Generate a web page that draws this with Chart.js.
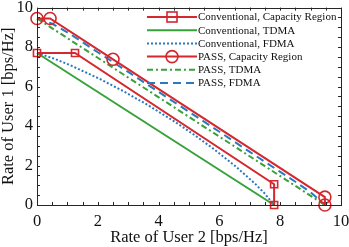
<!DOCTYPE html>
<html>
<head>
<meta charset="utf-8">
<script src="https://cdn.jsdelivr.net/npm/chart.js@4/dist/chart.umd.min.js"></script>
<style>
html,body{margin:0;padding:0;background:#fff;}
#wrap{width:349px;height:247px;}
</style>
</head>
<body>
<div id="wrap"><canvas id="c" width="349" height="247"></canvas></div>
<script>
// ---- data ----
const seriesLabels = [
  "Conventional, Capacity Region",
  "Conventional, TDMA",
  "Conventional, FDMA",
  "PASS, Capacity Region",
  "PASS, TDMA",
  "PASS, FDMA"
];
const convCapX  = [0, 1.25, 7.8, 7.8];
const convCapY  = [7.7, 7.7, 1.05, 0];
const convTdmaX = [0, 7.8];
const convTdmaY = [7.7, 0];
const convFdmaX = [0, 0.61, 1.11, 2.02, 2.86, 3.65, 4.53, 5.12, 5.82, 6.50, 7.16, 7.48, 7.8];
const convFdmaY = [7.7, 7.39, 7.07, 6.42, 5.75, 5.06, 4.22, 3.61, 2.83, 2.00, 1.10, 0.60, 0];
const passCapX  = [0, 0.43, 2.5, 9.47, 9.47];
const passCapY  = [9.45, 9.45, 7.38, 0.4, 0];
const passTdmaX = [0, 9.47];
const passTdmaY = [9.45, 0];
const passFdmaX = [0, 0.5, 1, 2, 3, 4, 5, 6, 7, 8, 8.5, 9, 9.47];
const passFdmaY = [9.45, 9.18, 8.75, 7.74, 6.74, 5.73, 4.72, 3.71, 2.69, 1.68, 1.18, 0.64, 0];
const xTickLabels = [0, 2, 4, 6, 8, 10];
const yTickLabels = [0, 2, 4, 6, 8, 10];
const xTitle = "Rate of User 2 [bps/Hz]";
const yTitle = "Rate of User 1 [bps/Hz]";

const RED = '#d4272e', GREEN = '#37a13a', BLUE = '#2a79bf';
const SERIF = '"Liberation Serif", "Times New Roman", serif';

function pts(xs, ys){ return xs.map((x,i)=>({x:x, y:ys[i]})); }

const styles = [
  {color:RED,   dash:[],         marker:'rect',   r:5},
  {color:GREEN, dash:[],         marker:null,     r:0},
  {color:BLUE,  dash:[2,2],      marker:null,     r:0},
  {color:RED,   dash:[],         marker:'circle', r:6},
  {color:GREEN, dash:[6,3,2,3],  marker:null,     r:0},
  {color:BLUE,  dash:[8,5],      marker:null,     r:0}
];
const dataXY = [
  pts(convCapX, convCapY), pts(convTdmaX, convTdmaY), pts(convFdmaX, convFdmaY),
  pts(passCapX, passCapY), pts(passTdmaX, passTdmaY), pts(passFdmaX, passFdmaY)
];

const datasets = dataXY.map((d,i)=>({
  label: seriesLabels[i],
  data: d,
  borderColor: styles[i].color,
  borderWidth: 2,
  borderDash: styles[i].dash,
  pointStyle: styles[i].marker || 'circle',
  pointRadius: styles[i].r,
  pointHoverRadius: styles[i].r,
  pointBorderColor: styles[i].color,
  pointBackgroundColor: 'rgba(0,0,0,0)',
  pointBorderWidth: 1.6,
  showLine: true,
  fill: false,
  tension: 0,
  clip: false
}));

const frameTicks = {
  id: 'frameTicks',
  afterDraw(chart){
    const ctx = chart.ctx, a = chart.chartArea;
    const xs = chart.scales.x, ys = chart.scales.y;
    ctx.save();
    ctx.strokeStyle = '#262626';
    ctx.lineWidth = 1;
    ctx.beginPath();
    for (let v = 0; v <= 10.0001; v += 0.5){
      const px = Math.round(xs.getPixelForValue(v)) + 0.5;
      ctx.moveTo(px, a.bottom); ctx.lineTo(px, a.bottom - 3);
      ctx.moveTo(px, a.top); ctx.lineTo(px, a.top + 3);
      const py = Math.round(ys.getPixelForValue(v)) + 0.5;
      ctx.moveTo(a.left, py); ctx.lineTo(a.left + 3, py);
      ctx.moveTo(a.right, py); ctx.lineTo(a.right - 3, py);
    }
    ctx.stroke();
    ctx.strokeRect(Math.round(a.left)+0.5, Math.round(a.top)+0.5,
                   Math.round(a.right-a.left), Math.round(a.bottom-a.top));
    ctx.restore();
  }
};

const legendPlugin = {
  id: 'customLegend',
  afterDatasetsDraw(chart){
    const ctx = chart.ctx;
    const x0 = 147, x1 = 197, y0 = 17, dy = 13.2;
    ctx.save();
    chart.data.datasets.forEach((ds,i)=>{
      const y = y0 + i*dy;
      const st = styles[i];
      ctx.strokeStyle = st.color;
      ctx.lineWidth = 2;
      ctx.setLineDash(st.dash);
      ctx.beginPath(); ctx.moveTo(x0, y); ctx.lineTo(x1, y); ctx.stroke();
      ctx.setLineDash([]);
      if (st.marker === 'rect'){
        ctx.lineWidth = 1.6;
        ctx.strokeRect(172 - st.r, y - st.r, 2*st.r, 2*st.r);
      } else if (st.marker === 'circle'){
        ctx.lineWidth = 1.6;
        ctx.beginPath(); ctx.arc(172, y, st.r, 0, Math.PI*2); ctx.stroke();
      }
      ctx.fillStyle = '#111';
      ctx.font = '11px ' + SERIF;
      ctx.textBaseline = 'middle';
      ctx.textAlign = 'left';
      ctx.fillText(ds.label, x1 + 1, y + 0.5);
    });
    ctx.restore();
  }
};

new Chart(document.getElementById('c'), {
  type: 'scatter',
  data: { datasets },
  options: {
    responsive: false,
    animation: false,
    devicePixelRatio: 1,
    layout: { padding: { top: 6, right: 8, left: 0, bottom: 0 } },
    plugins: { legend: { display: false }, tooltip: { enabled: false } },
    scales: {
      x: {
        type: 'linear', min: 0, max: 10,
        grid: { display: false, drawTicks: false },
        border: { display: false },
        ticks: {
          stepSize: 2, padding: 7, color: '#111', maxRotation: 0,
          font: { family: SERIF, size: 16.5, lineHeight: 1.2 },
          callback: v => xTickLabels.includes(v) ? String(v) : ''
        },
        title: { display: true, text: xTitle, color: '#111',
          font: { family: SERIF, size: 16.5, lineHeight: 1.0 }, padding: { top: 0, bottom: 1 } },
        afterFit: s => { s.height = 42; s.paddingLeft = 0; s.paddingRight = 0; }
      },
      y: {
        type: 'linear', min: 0, max: 10,
        grid: { display: false, drawTicks: false },
        border: { display: false },
        ticks: {
          stepSize: 2, padding: 4, color: '#111',
          font: { family: SERIF, size: 16.5, lineHeight: 1.2 },
          callback: v => yTickLabels.includes(v) ? String(v) : ''
        },
        title: { display: true, text: yTitle, color: '#111',
          font: { family: SERIF, size: 16.5, lineHeight: 1.0 }, padding: { top: 0, bottom: 0 } },
        afterFit: s => { s.width = 37; s.paddingTop = 0; s.paddingBottom = 0; }
      }
    }
  },
  plugins: [frameTicks, legendPlugin]
});
</script>
</body>
</html>
